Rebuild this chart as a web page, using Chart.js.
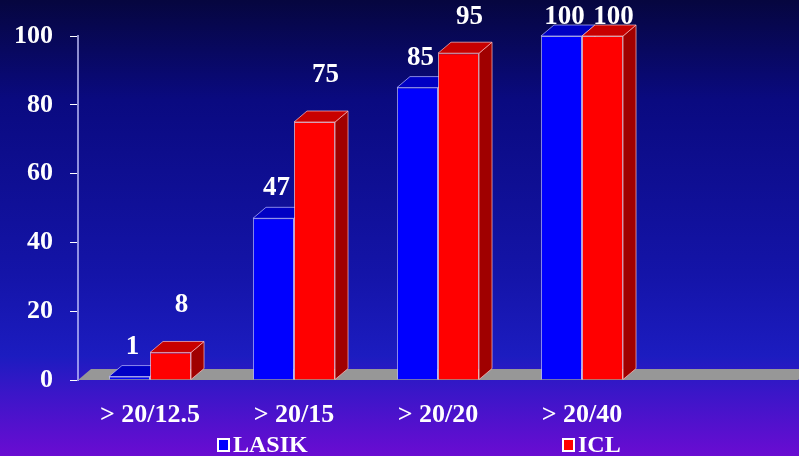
<!DOCTYPE html>
<html>
<head>
<meta charset="utf-8">
<script src="https://cdn.jsdelivr.net/npm/chart.js@4"></script>
<style>
  html, body { margin: 0; padding: 0; }
  body {
    width: 799px; height: 456px; overflow: hidden;
    background: linear-gradient(to bottom, #06063f 0%, #0a0a80 22%, #1414a8 60%, #1c1cc0 78%, #3a16c8 86%, #6a0cd2 100%);
  }
  #wrap { width: 799px; height: 456px; position: relative; }
</style>
</head>
<body>
<div id="wrap"><canvas id="chart"></canvas></div>
<script>
const categories = ['> 20/12.5', '> 20/15', '> 20/20', '> 20/40'];
const lasikValues = [1, 47, 85, 100];
const iclValues = [8, 75, 95, 100];
const seriesNames = ['LASIK', 'ICL'];

const FONT = '"Liberation Serif", "Times New Roman", serif';
const DX = 13, DY = -11;

const faceColors = [
  { top: '#0000c4', side: '#00009a', edge: 'rgba(190,190,255,0.7)' },
  { top: '#c80000', side: '#a00000', edge: 'rgba(255,190,190,0.7)' }
];

// floor + top/side faces, drawn before the front faces
const depthPlugin = {
  id: 'depth',
  beforeDatasetsDraw(chart) {
    const ctx = chart.ctx;
    const area = chart.chartArea;
    const xs = chart.scales.x;
    const catW = xs.getPixelForValue(1) - xs.getPixelForValue(0);
    const y0 = chart.scales.y.getPixelForValue(0);
    ctx.save();
    ctx.fillStyle = '#979797';
    ctx.beginPath();
    ctx.moveTo(area.left, y0);
    ctx.lineTo(area.left + DX, y0 + DY);
    ctx.lineTo(area.right + catW + DX, y0 + DY);
    ctx.lineTo(area.right + catW, y0);
    ctx.closePath();
    ctx.fill();

    chart.data.datasets.forEach((ds, di) => {
      const meta = chart.getDatasetMeta(di);
      const c = faceColors[di];
      meta.data.forEach(bar => {
        const half = bar.width / 2;
        const l = bar.x - half, r = bar.x + half, t = bar.y, b = bar.base;
        ctx.lineWidth = 1;
        ctx.strokeStyle = c.edge;
        // side
        ctx.fillStyle = c.side;
        ctx.beginPath();
        ctx.moveTo(r, t);
        ctx.lineTo(r + DX, t + DY);
        ctx.lineTo(r + DX, b + DY);
        ctx.lineTo(r, b);
        ctx.closePath();
        ctx.fill();
        ctx.stroke();
        // top
        ctx.fillStyle = c.top;
        ctx.beginPath();
        ctx.moveTo(l, t);
        ctx.lineTo(l + DX, t + DY);
        ctx.lineTo(r + DX, t + DY);
        ctx.lineTo(r, t);
        ctx.closePath();
        ctx.fill();
        ctx.stroke();
      });
    });
    ctx.restore();
  }
};

const labelOffsets = [{ dx: 3, dy: -30 }, { dx: 11, dy: -47 }];
const legendPos = [217, 562];

const labelPlugin = {
  id: 'labels',
  afterDraw(chart) {
    const ctx = chart.ctx;
    ctx.save();
    ctx.fillStyle = '#ffffff';
    ctx.font = 'bold 27px ' + FONT;
    ctx.textAlign = 'center';
    ctx.textBaseline = 'middle';
    chart.data.datasets.forEach((ds, di) => {
      const meta = chart.getDatasetMeta(di);
      const off = labelOffsets[di];
      meta.data.forEach((bar, i) => {
        const y = Math.max(17, bar.y + off.dy);
        ctx.fillText(String(ds.data[i]), bar.x + off.dx, y);
      });
    });
    // legend
    ctx.font = 'bold 24px ' + FONT;
    ctx.textAlign = 'left';
    ctx.textBaseline = 'alphabetic';
    chart.data.datasets.forEach((ds, di) => {
      const x = legendPos[di];
      ctx.fillStyle = '#ffffff';
      ctx.fillRect(x, 438, 13, 14);
      ctx.fillStyle = ds.backgroundColor;
      ctx.fillRect(x + 2, 440, 9, 10);
      ctx.fillStyle = '#ffffff';
      ctx.fillText(ds.label, x + 16, 452);
    });
    ctx.restore();
  }
};

new Chart(document.getElementById('chart'), {
  type: 'bar',
  data: {
    labels: categories,
    datasets: [
      { label: seriesNames[0], data: lasikValues, backgroundColor: '#0000ff', borderColor: 'rgba(190,190,255,0.75)', borderWidth: 1 },
      { label: seriesNames[1], data: iclValues, backgroundColor: '#ff0000', borderColor: 'rgba(255,190,190,0.75)', borderWidth: 1 }
    ]
  },
  options: {
    responsive: true,
    maintainAspectRatio: false,
    animation: false,
    categoryPercentage: 0.57,
    barPercentage: 1,
    layout: { padding: { top: 36, right: 145, left: 0, bottom: 0 } },
    plugins: { legend: { display: false }, tooltip: { enabled: false } },
    scales: {
      x: {
        grid: { display: false },
        border: { display: false },
        ticks: { color: '#ffffff', padding: 12, font: { family: FONT, size: 26, weight: 'bold' } },
        afterFit(scale) { scale.height = 76; }
      },
      y: {
        min: 0, max: 100,
        grid: { drawOnChartArea: false, drawTicks: true, tickLength: 8, color: '#ffffff', lineWidth: 1 },
        border: { display: true, color: 'rgba(200,200,255,0.7)', width: 2 },
        ticks: { stepSize: 20, color: '#ffffff', padding: 17, font: { family: FONT, size: 26, weight: 'bold' } },
        afterFit(scale) { scale.width = 78; }
      }
    }
  },
  plugins: [depthPlugin, labelPlugin]
});
</script>
</body>
</html>
